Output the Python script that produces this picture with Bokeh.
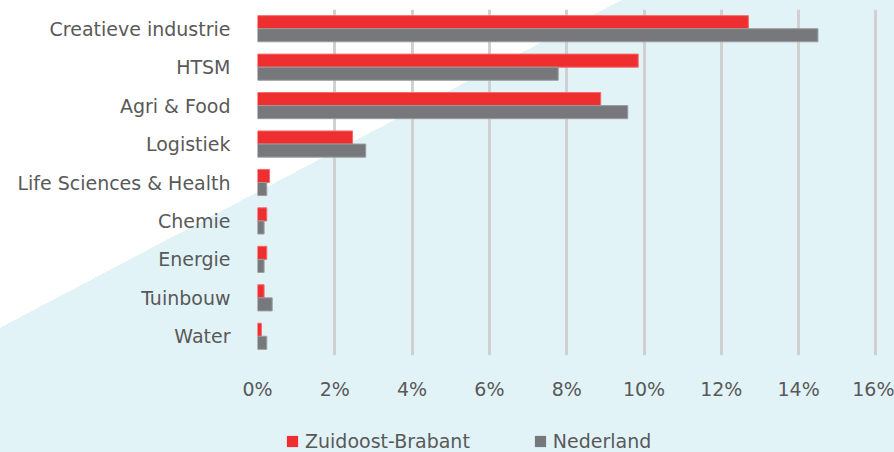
from bokeh.plotting import figure
from bokeh.layouts import column
from bokeh.models import FactorRange, Range1d, FixedTicker, Legend, LegendItem, ColumnDataSource
from bokeh.transform import dodge
from bokeh.embed import file_html
from bokeh.resources import INLINE

categories = ["Creatieve industrie", "HTSM", "Agri & Food", "Logistiek",
              "Life Sciences & Health", "Chemie", "Energie", "Tuinbouw", "Water"]
zuidoost_brabant = [12.7, 9.85, 8.88, 2.46, 0.31, 0.24, 0.24, 0.17, 0.10]
nederland = [14.5, 7.78, 9.58, 2.80, 0.24, 0.17, 0.17, 0.38, 0.24]
x_ticks = [0, 2, 4, 6, 8, 10, 12, 14, 16]
series_names = ["Zuidoost-Brabant", "Nederland"]

FONT = "DejaVu Sans"
TXT = "#595959"
RED = "#EE2E2F"
GREY = "#76787B"
RED_EDGE = "#F36A6A"
GREY_EDGE = "#9A9C9E"

src = ColumnDataSource(dict(cat=categories, zob=zuidoost_brabant, nl=nederland))

p = figure(width=894, height=425, output_backend="svg", toolbar_location=None,
           y_range=FactorRange(factors=categories[::-1], range_padding=0),
           x_range=Range1d(0, 16.3),
           min_border_left=257, min_border_right=7, min_border_top=9, min_border_bottom=70)
p.background_fill_color = None
p.border_fill_color = None
p.outline_line_color = None

p.hbar(y=dodge("cat", 0.17, range=p.y_range), right="zob", left=0, height=0.34,
       source=src, fill_color=RED, line_color=RED_EDGE, line_width=1)
p.hbar(y=dodge("cat", -0.17, range=p.y_range), right="nl", left=0, height=0.34,
       source=src, fill_color=GREY, line_color=GREY_EDGE, line_width=1)

p.xaxis.ticker = FixedTicker(ticks=x_ticks)
p.xaxis.major_label_overrides = {t: f"{t}%" for t in x_ticks}
for ax in (p.xaxis[0], p.yaxis[0]):
    ax.axis_line_color = None
    ax.major_tick_line_color = None
    ax.major_tick_out = 0
    ax.major_tick_in = 0
    ax.minor_tick_line_color = None
    ax.major_label_text_font = FONT
    ax.major_label_text_font_size = "19px"
    ax.major_label_text_color = TXT
p.xaxis.major_label_standoff = 22
p.yaxis.major_label_standoff = 27

p.xgrid.ticker = FixedTicker(ticks=x_ticks)
p.xgrid.grid_line_color = "#D0D0D0"
p.xgrid.grid_line_width = 3
p.ygrid.grid_line_color = None

# legend strip
lg = figure(width=894, height=27, output_backend="svg", toolbar_location=None,
            x_axis_type=None, y_axis_type=None,
            y_range=FactorRange(factors=categories[::-1]), x_range=Range1d(0, 16.3),
            min_border_left=0, min_border_right=0, min_border_top=0, min_border_bottom=0)
lg.background_fill_color = None
lg.border_fill_color = None
lg.outline_line_color = None
lg.grid.grid_line_color = None
l1 = lg.hbar(y="cat", right="zob", left=0, height=0.34, source=src,
             fill_color=RED, line_color=None, visible=False)
l2 = lg.hbar(y="cat", right="nl", left=0, height=0.34, source=src,
             fill_color=GREY, line_color=None, visible=False)

legend = Legend(items=[LegendItem(label=series_names[0], renderers=[l1]),
                       LegendItem(label=series_names[1], renderers=[l2])],
                orientation="horizontal", location=(28, 0),
                glyph_width=14, glyph_height=14, label_standoff=6, spacing=63,
                padding=0, margin=0, border_line_color=None, background_fill_alpha=0,
                inactive_fill_alpha=0, click_policy="none",
                label_text_font=FONT, label_text_font_size="19px", label_text_color=TXT)
lg.add_layout(legend, "center")

layout = column(p, lg, spacing=0)
layout.styles = {"background": "linear-gradient(152.2deg, #ffffff 35.5%, #E2F3F8 35.5%)"}

open("out.html", "w").write(file_html(layout, INLINE))
